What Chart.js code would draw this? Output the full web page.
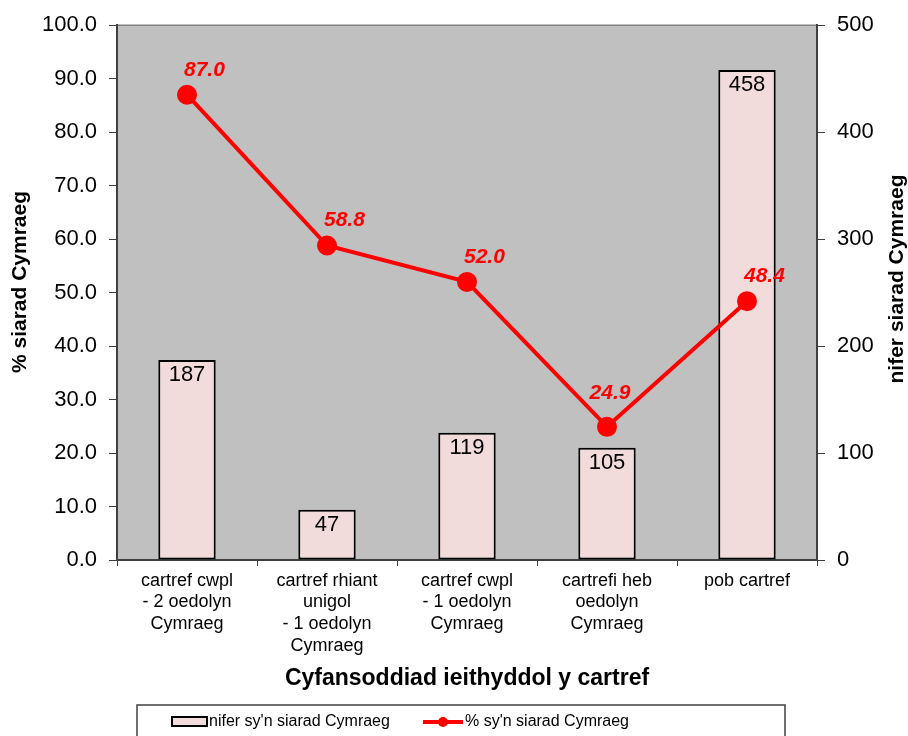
<!DOCTYPE html>
<html lang="cy">
<head>
  <meta charset="UTF-8">
  <title>Cyfansoddiad ieithyddol y cartref</title>
  <script src="https://cdn.jsdelivr.net/npm/chart.js"></script>
  <style>
    body {
      margin: 0;
      background: #fff;
      font-family: "Liberation Sans", Arial, sans-serif;
    }
    .chart-container {
      width: 908px;
      height: 736px;
    }
  </style>
</head>
<body>

<div class="chart-container">
  <canvas id="siaradChart"></canvas>
</div>

<script>
  const categories = [
    ['cartref cwpl', '- 2 oedolyn', 'Cymraeg'],
    ['cartref rhiant', 'unigol', '- 1 oedolyn', 'Cymraeg'],
    ['cartref cwpl', '- 1 oedolyn', 'Cymraeg'],
    ['cartrefi heb', 'oedolyn', 'Cymraeg'],
    ['pob cartref']
  ];
  const niferValues = [187, 47, 119, 105, 458];
  const canranValues = [87.0, 58.8, 52.0, 24.9, 48.4];

  const barLabel = "nifer sy'n siarad Cymraeg";
  const lineLabel = "% sy'n siarad Cymraeg";
  const leftTitle = '% siarad Cymraeg';
  const rightTitle = 'nifer siarad Cymraeg';
  const xTitle = 'Cyfansoddiad ieithyddol y cartref';

  const FONT = '"Liberation Sans", Arial, sans-serif';
  const PINK = '#f2dcdb';
  const RED = '#ff0000';

  function verticalTitle(ctx, text, x, y) {
    ctx.save();
    ctx.fillStyle = '#000';
    ctx.font = 'bold 21px ' + FONT;
    ctx.textAlign = 'center';
    ctx.textBaseline = 'middle';
    ctx.translate(x, y);
    ctx.rotate(-Math.PI / 2);
    ctx.fillText(text, 0, 0);
    ctx.restore();
  }

  // grey plot area + value labels + axis titles + legend box
  const extras = {
    id: 'extras',
    beforeDraw(chart) {
      const { ctx, chartArea: a } = chart;
      ctx.save();
      ctx.fillStyle = '#c0c0c0';
      ctx.fillRect(a.left, a.top, a.right - a.left, a.bottom - a.top);
      ctx.strokeStyle = '#808080';
      ctx.lineWidth = 1.5;
      ctx.beginPath();
      ctx.moveTo(a.left, a.top);
      ctx.lineTo(a.right, a.top);
      ctx.stroke();
      ctx.restore();
    },
    afterDraw(chart) {
      const { ctx } = chart;
      ctx.save();

      // bar values inside top of bars (dataset 1 = bars)
      ctx.fillStyle = '#000';
      ctx.font = '22px ' + FONT;
      ctx.textAlign = 'center';
      ctx.textBaseline = 'middle';
      chart.getDatasetMeta(1).data.forEach((bar, i) => {
        ctx.fillText(String(niferValues[i]), bar.x, bar.y + 15);
      });

      // line values above points (dataset 0 = line)
      ctx.fillStyle = RED;
      ctx.font = 'italic bold 21px ' + FONT;
      const minIdx = canranValues.indexOf(Math.min(...canranValues));
      chart.getDatasetMeta(0).data.forEach((pt, i) => {
        const txt = canranValues[i].toFixed(1);
        if (i === minIdx) {
          ctx.textAlign = 'center';
          ctx.fillText(txt, pt.x + 3, pt.y - 34);
        } else {
          ctx.textAlign = 'left';
          ctx.fillText(txt, pt.x - 3, pt.y - 25);
        }
      });
      ctx.restore();

      verticalTitle(ctx, leftTitle, 20, 282);
      verticalTitle(ctx, rightTitle, 897, 279);

      // legend
      ctx.save();
      ctx.strokeStyle = '#404040';
      ctx.lineWidth = 1.5;
      ctx.strokeRect(137, 705, 648, 60);

      ctx.fillStyle = PINK;
      ctx.fillRect(172, 717, 35, 9);
      ctx.strokeStyle = '#000';
      ctx.lineWidth = 2;
      ctx.strokeRect(172, 717, 35, 9);

      ctx.fillStyle = '#000';
      ctx.font = '16px ' + FONT;
      ctx.textAlign = 'left';
      ctx.textBaseline = 'middle';
      ctx.fillText(barLabel, 209, 722);

      ctx.strokeStyle = RED;
      ctx.lineWidth = 4;
      ctx.beginPath();
      ctx.moveTo(423, 722);
      ctx.lineTo(463, 722);
      ctx.stroke();
      ctx.fillStyle = RED;
      ctx.beginPath();
      ctx.arc(443, 722, 5, 0, Math.PI * 2);
      ctx.fill();

      ctx.fillStyle = '#000';
      ctx.fillText(lineLabel, 465, 722);
      ctx.restore();
    }
  };

  const ctx = document.getElementById('siaradChart').getContext('2d');

  new Chart(ctx, {
    data: {
      labels: categories,
      datasets: [
        {
          type: 'line',
          label: lineLabel,
          data: canranValues,
          yAxisID: 'y',
          borderColor: RED,
          backgroundColor: RED,
          borderWidth: 4,
          pointRadius: 8,
          pointHoverRadius: 8,
          order: 0
        },
        {
          type: 'bar',
          label: barLabel,
          data: niferValues,
          yAxisID: 'y1',
          backgroundColor: PINK,
          borderColor: '#000',
          borderWidth: 2,
          borderSkipped: false,
          barPercentage: 0.41,
          categoryPercentage: 1.0,
          order: 1
        }
      ]
    },
    options: {
      responsive: true,
      maintainAspectRatio: false,
      animation: false,
      layout: { padding: { top: 24, bottom: 36 } },
      scales: {
        x: {
          offset: true,
          grid: {
            offset: true,
            drawOnChartArea: false,
            tickLength: 6,
            color: '#404040'
          },
          border: { color: '#404040', width: 2 },
          ticks: {
            color: '#000',
            font: { family: FONT, size: 18 },
            padding: 4,
            maxRotation: 0,
            autoSkip: false
          },
          title: {
            display: true,
            text: xTitle,
            color: '#000',
            font: { family: FONT, size: 23, weight: 'bold' },
            padding: { top: 0, bottom: 8 }
          },
          afterFit: s => { s.height = 140; }
        },
        y: {
          position: 'left',
          min: 0,
          max: 100,
          grid: { drawOnChartArea: false, tickLength: 8, color: '#404040' },
          border: { color: '#404040', width: 2 },
          ticks: {
            stepSize: 10,
            color: '#000',
            font: { family: FONT, size: 22 },
            padding: 12,
            callback: v => v.toFixed(1)
          },
          afterFit: s => { s.width = 117; }
        },
        y1: {
          position: 'right',
          min: 0,
          max: 500,
          grid: { drawOnChartArea: false, tickLength: 8, color: '#404040' },
          border: { color: '#404040', width: 2 },
          ticks: {
            stepSize: 100,
            color: '#000',
            font: { family: FONT, size: 22 },
            padding: 12
          },
          afterFit: s => { s.width = 91; }
        }
      },
      plugins: {
        legend: { display: false },
        tooltip: { enabled: false }
      }
    },
    plugins: [extras]
  });
</script>

</body>
</html>
